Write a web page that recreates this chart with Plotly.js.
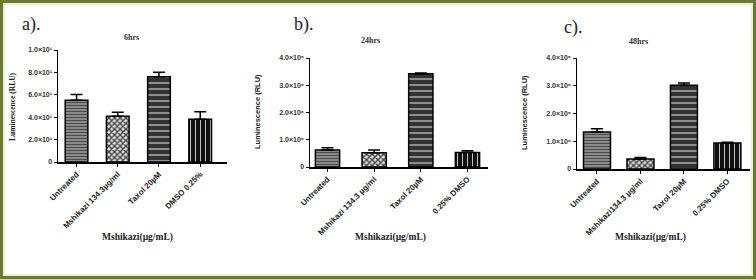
<!DOCTYPE html>
<html><head><meta charset="utf-8">
<script src="https://cdn.plot.ly/plotly-3.0.1.min.js"></script>
<style>html,body{margin:0;padding:0;background:#fff;}#c{width:756px;height:279px;}</style>
</head><body><div id="c"></div>
<script>
// ---- data ----
const catsA = ["Untreated", "Mshikazi 134.3µg/ml", "Taxol 20µM", "DMSO 0.25%"];
const catsB = ["Untreated", "Mshikazi 134.3 µg/ml", "Taxol 20µM", "0.25% DMSO"];
const catsC = ["Untreated", "Mshikazi134.3 µg/ml", "Taxol 20µM", "0.25% DMSO"];
const vals6h  = [5.52, 4.09, 7.61, 3.82];
const err6h   = [0.50, 0.36, 0.40, 0.66];
const vals24h = [0.62, 0.52, 3.42, 0.53];
const err24h  = [0.09, 0.10, 0.03, 0.07];
const vals48h = [1.33, 0.36, 3.02, 0.94];
const err48h  = [0.12, 0.05, 0.08, 0.02];
const yTicksA = [0, 2, 4, 6, 8, 10];
const yTextA  = ["0", "2.0×10¹", "4.0×10¹", "6.0×10¹", "8.0×10¹", "1.0×10¹"];
const yTicksBC = [0, 1, 2, 3, 4];
const yTextBC  = ["0", "1.0×10⁶", "2.0×10⁶", "3.0×10⁶", "4.0×10⁶"];
const titles = ["6hrs", "24hrs", "48hrs"];
const panelLabels = ["a).", "b).", "c)."];
const xTitle = "Mshikazi(µg/mL)";
const yTitle = "Luminescence (RLU)";

// ---- styles ----
const W = 756, H = 279;
const px = x => x / W, py = y => 1 - y / H;
const patterns = [
  {shape: "-", bgcolor: "#8a8a8a", fgcolor: "#a2a2a2", size: 3, solidity: 0.3},
  {shape: "x", bgcolor: "#e8e8e8", fgcolor: "#222222", size: 4, solidity: 0.6},
  {shape: "-", bgcolor: "#333333", fgcolor: "#c4c4c4", size: 6, solidity: 0.15},
  {shape: "|", bgcolor: "#111111", fgcolor: "#cfcfcf", size: 5, solidity: 0.15}
];

function barTrace(cats, vals, errs, xa, ya, width) {
  return {
    type: "bar", x: cats.map((c, i) => i), y: vals, xaxis: xa, yaxis: ya, width: width,
    marker: {color: patterns.map(p => p.bgcolor), pattern: {
      shape: patterns.map(p => p.shape),
      fgcolor: patterns.map(p => p.fgcolor), fgopacity: 1, size: patterns.map(p => p.size),
      solidity: patterns.map(p => p.solidity), fillmode: "overlay"},
      line: {color: "#000", width: 1.5}},
    error_y: {type: "data", symmetric: false, array: errs, arrayminus: errs.map(() => 0),
      color: "#000", thickness: 1.5, width: 6},
    hoverinfo: "skip", showlegend: false
  };
}

const data = [
  barTrace(catsA, vals6h, err6h, "x", "y", 0.55),
  barTrace(catsB, vals24h, err24h, "x2", "y2", 0.52),
  barTrace(catsC, vals48h, err48h, "x3", "y3", 0.62)
];

const sans = "Arial, 'Liberation Sans', sans-serif";
const serif = "'Liberation Serif', 'Times New Roman', serif";
const tickFont = {family: sans, size: 8, color: "#222", weight: "bold"};
function xax(cats, dom, rng, anchor) {
  return {domain: dom, range: rng, anchor: anchor, tickmode: "array",
    tickvals: cats.map((c, i) => i), ticktext: cats, tickangle: -45,
    tickfont: tickFont, showline: true, linecolor: "#000", linewidth: 1.5,
    ticks: "outside", ticklen: 3, tickcolor: "#000", tickwidth: 1,
    showgrid: false, zeroline: false, automargin: false, fixedrange: true};
}
function yax(dom, rng, tv, tt, anchor) {
  return {domain: dom, range: rng, anchor: anchor, tickmode: "array",
    tickvals: tv, ticktext: tt, tickfont: {family: sans, size: 7, color: "#333", weight: "bold"},
    showline: true, linecolor: "#000", linewidth: 1.5,
    ticks: "outside", ticklen: 3, tickcolor: "#000", tickwidth: 1,
    showgrid: false, zeroline: false, automargin: false, fixedrange: true};
}

const ann = [];
const labelPos = [[31, 25], [304, 25], [573, 27]];
const titlePos = [[131, 37], [370, 40], [638, 42]];
const xTitlePos = [[137, 238], [390, 238], [650, 238]];
const yTitlePos = [[13, 107], [257, 112], [525, 113]];
const yTitleFam = [serif, sans, sans];
for (let i = 0; i < 3; i++) {
  ann.push({xref: "paper", yref: "paper", x: px(labelPos[i][0]), y: py(labelPos[i][1]), text: panelLabels[i],
    showarrow: false, font: {family: serif, size: 18, color: "#222"}, xanchor: "center", yanchor: "middle"});
  ann.push({xref: "paper", yref: "paper", x: px(titlePos[i][0]), y: py(titlePos[i][1]), text: titles[i],
    showarrow: false, font: {family: serif, size: 8, color: "#333", weight: "bold"}, xanchor: "center", yanchor: "middle"});
  ann.push({xref: "paper", yref: "paper", x: px(xTitlePos[i][0]), y: py(xTitlePos[i][1]), text: xTitle,
    showarrow: false, font: {family: serif, size: 9.5, color: "#222", weight: "bold"}, xanchor: "center", yanchor: "middle"});
  ann.push({xref: "paper", yref: "paper", x: px(yTitlePos[i][0]), y: py(yTitlePos[i][1]), text: yTitle, textangle: -90,
    showarrow: false, font: {family: yTitleFam[i], size: 7.5, color: "#222", weight: "bold"}, xanchor: "center", yanchor: "middle"});
}

const layout = {
  width: W, height: H, margin: {l: 0, r: 0, t: 0, b: 0},
  paper_bgcolor: "#ffffff", plot_bgcolor: "rgba(0,0,0,0)", bargap: 0.3,
  xaxis: xax(catsA, [px(58), px(227)], [-0.45, 3.65], "y"),
  yaxis: yax([py(162), py(50)], [0, 10], yTicksA, yTextA, "x"),
  xaxis2: xax(catsB, [px(310), px(488)], [-0.375, 3.44], "y2"),
  yaxis2: yax([py(167), py(58)], [0, 4], yTicksBC, yTextBC, "x2"),
  xaxis3: xax(catsC, [px(577), px(750)], [-0.46, 3.52], "y3"),
  yaxis3: yax([py(169), py(58)], [0, 4], yTicksBC, yTextBC, "x3"),
  annotations: ann,
  shapes: [
    {type: "rect", xref: "paper", yref: "paper", x0: px(1.5), x1: px(754.5), y0: py(277.5), y1: py(1.5),
      line: {color: "#6b7a2c", width: 3}, fillcolor: "rgba(0,0,0,0)", layer: "above"},
    {type: "rect", xref: "paper", yref: "paper", x0: px(4), x1: px(752), y0: py(275), y1: py(4),
      line: {color: "#d6dcb4", width: 1}, fillcolor: "rgba(0,0,0,0)", layer: "above"}
  ]
};
Plotly.newPlot("c", data, layout, {staticPlot: true, displayModeBar: false});
</script></body></html>
